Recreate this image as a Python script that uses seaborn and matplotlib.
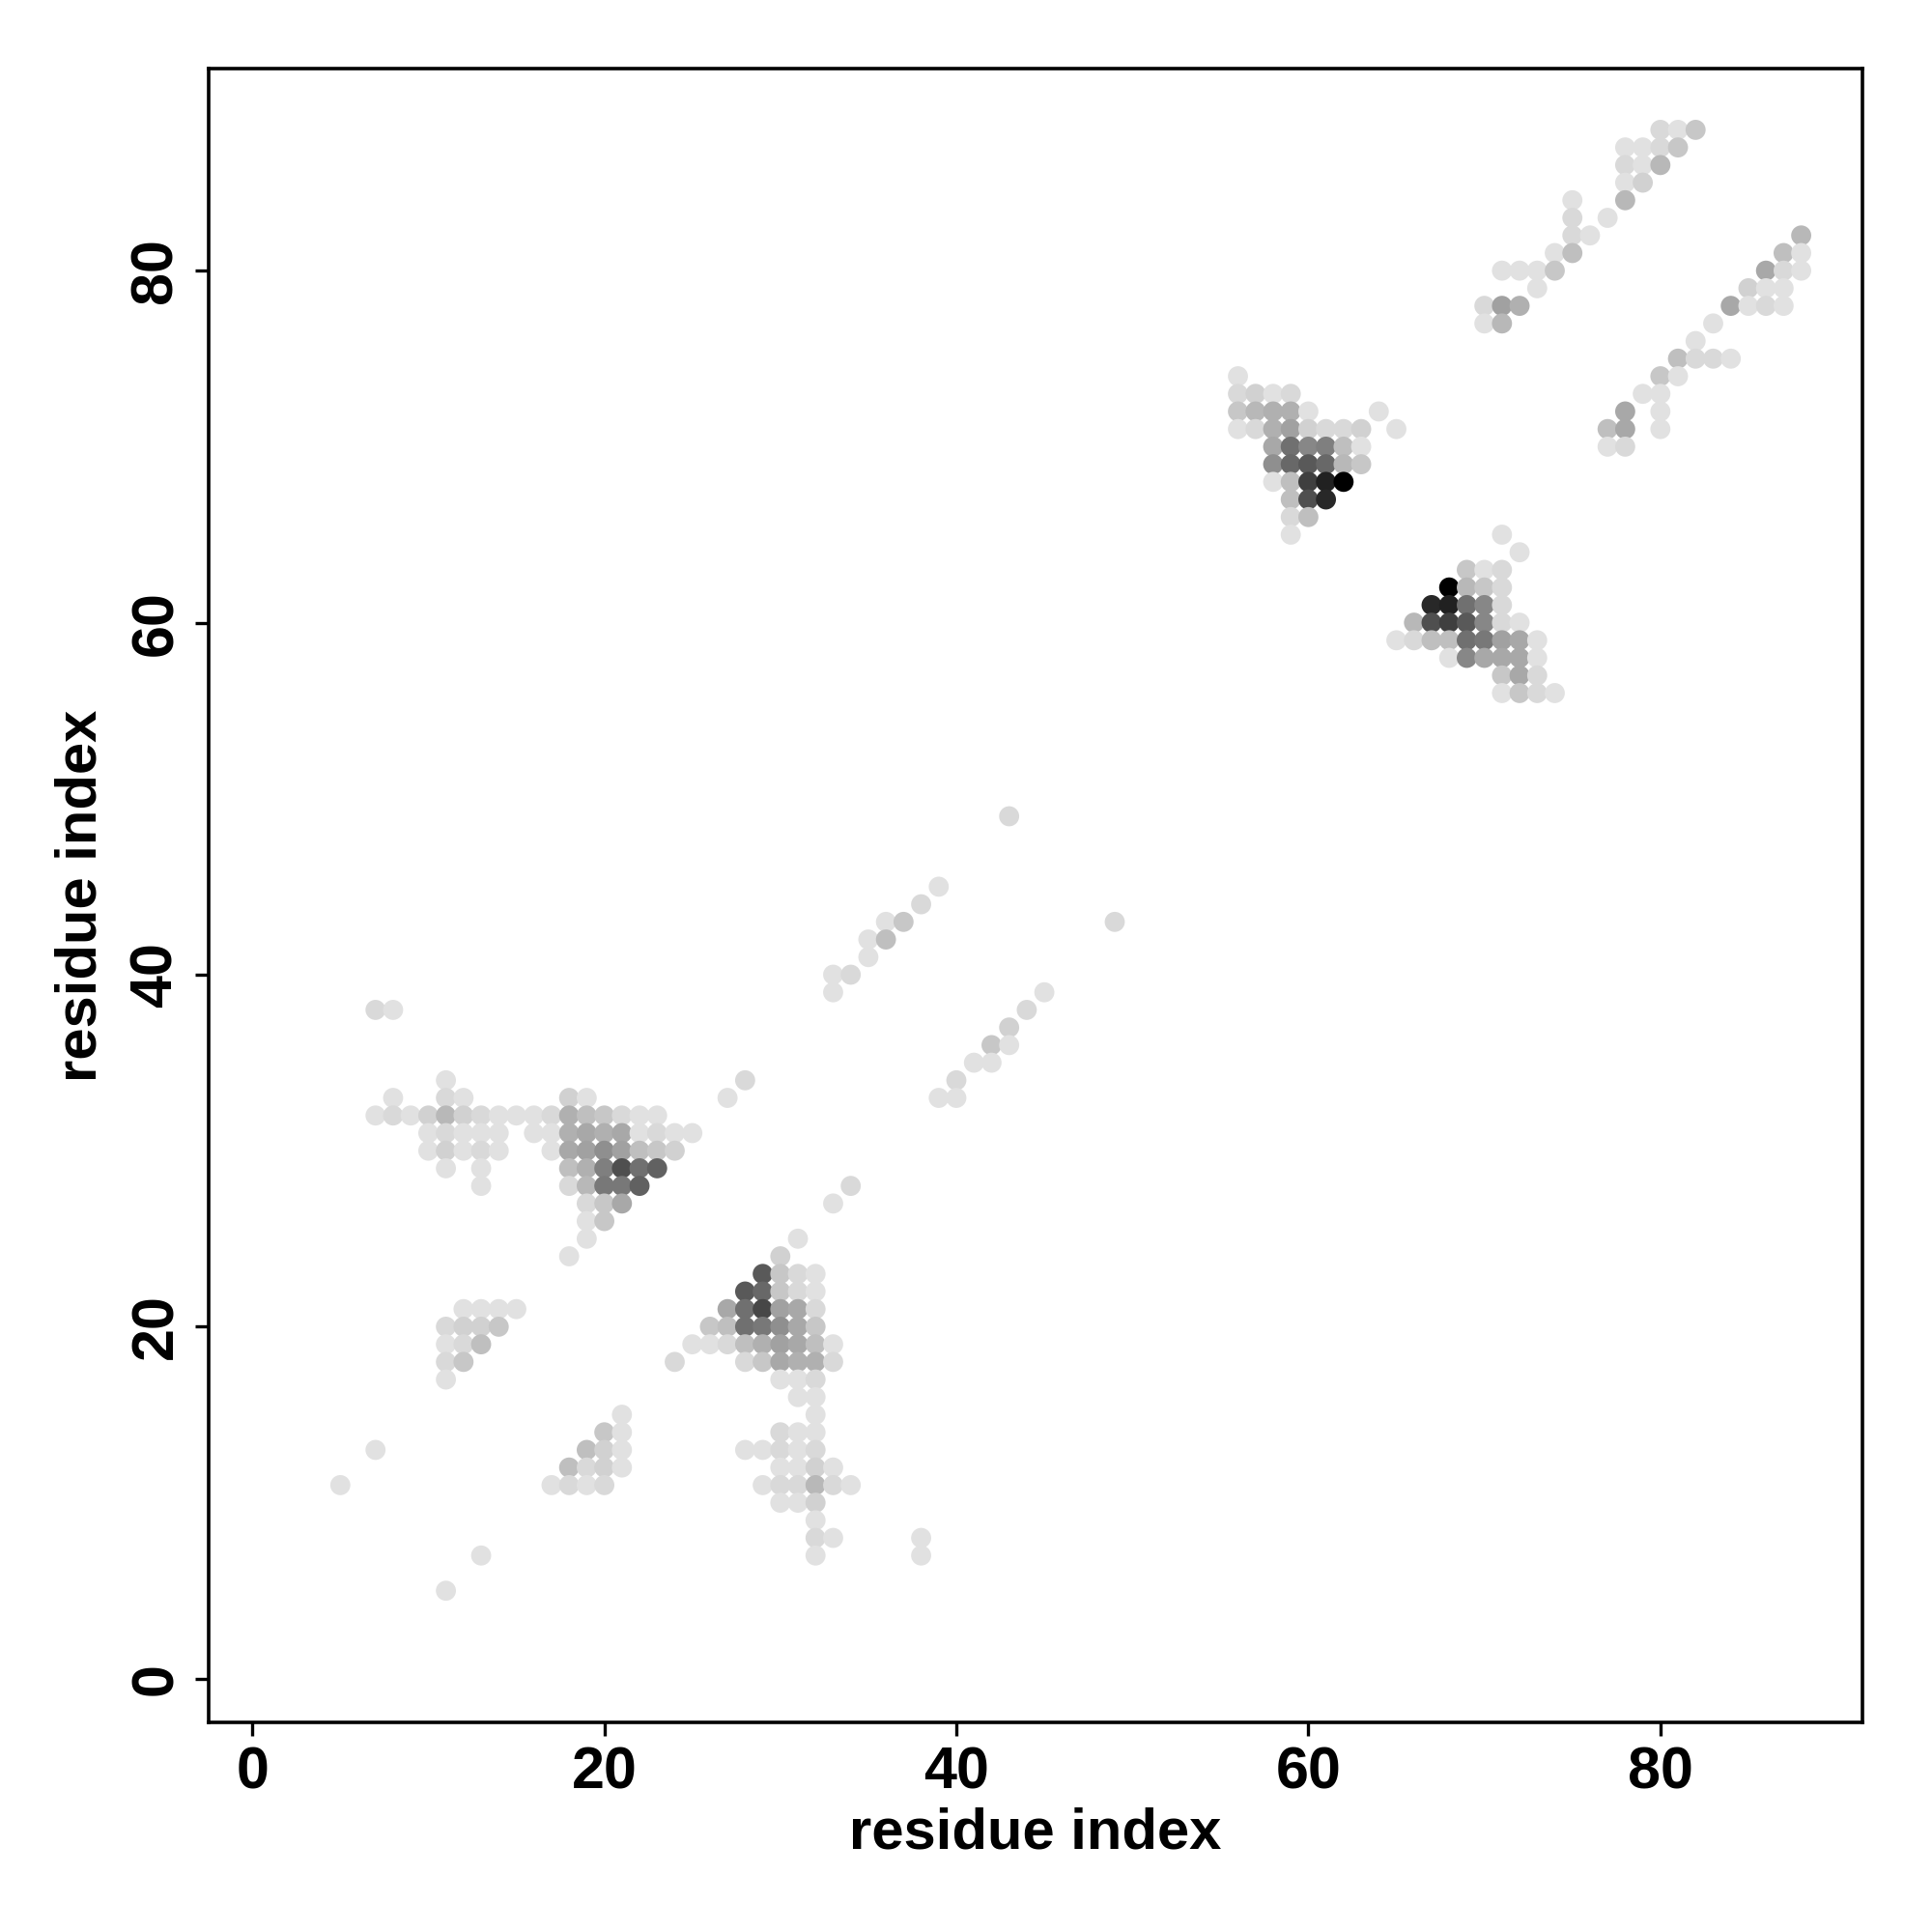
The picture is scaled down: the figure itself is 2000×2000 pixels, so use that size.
import matplotlib
matplotlib.use("Agg")

import matplotlib.pyplot as plt
import pandas as pd
import seaborn as sns

from matplotlib.colors import LinearSegmentedColormap

# contact map: one entry per row j (residue index on y), with the
# partner residues i on that row and the contact probability of each
row_j = [
    88, 87, 86, 85, 84, 83, 82, 81, 80, 79, 78, 77, 76, 75, 74, 73, 72, 71,
    70, 69, 68, 67, 66, 65, 64, 63, 62, 61, 60, 59, 58, 57, 56,
    49, 45, 44, 43, 42, 41, 40, 39, 38, 37, 36, 35, 34, 33, 32, 31, 30,
    29, 28, 27, 26, 25, 24, 23, 22, 21, 20, 19, 18, 17, 16, 15, 14, 13,
    12, 11, 10, 9, 8, 7, 5,
]
row_i = [
    [80, 81, 82],
    [78, 79, 80, 81],
    [78, 79, 80],
    [78, 79],
    [75, 78],
    [75, 77],
    [75, 76, 88],
    [74, 75, 87, 88],
    [71, 72, 73, 74, 86, 87, 88],
    [73, 85, 86, 87],
    [70, 71, 72, 84, 85, 86, 87],
    [70, 71, 83],
    [82],
    [81, 82, 83, 84],
    [56, 80, 81],
    [56, 57, 58, 59, 79, 80],
    [56, 57, 58, 59, 60, 64, 78, 80],
    [56, 57, 58, 59, 60, 61, 62, 63, 65, 77, 78, 80],
    [58, 59, 60, 61, 62, 63, 77, 78],
    [58, 59, 60, 61, 62, 63],
    [58, 59, 60, 61, 62],
    [59, 60, 61],
    [59, 60],
    [59, 71],
    [72],
    [69, 70, 71],
    [68, 69, 70, 71],
    [67, 68, 69, 70, 71],
    [66, 67, 68, 69, 70, 71, 72],
    [65, 66, 67, 68, 69, 70, 71, 72, 73],
    [68, 69, 70, 71, 72, 73],
    [71, 72, 73],
    [71, 72, 73, 74],
    [43],
    [39],
    [38],
    [36, 37, 49],
    [35, 36],
    [35],
    [33, 34],
    [33, 45],
    [7, 8, 44],
    [43],
    [42, 43],
    [41, 42],
    [11, 28, 40],
    [8, 11, 12, 18, 19, 27, 39, 40],
    [7, 8, 9, 10, 11, 12, 13, 14, 15, 16, 17, 18, 19, 20, 21, 22, 23],
    [10, 11, 12, 13, 14, 16, 17, 18, 19, 20, 21, 22, 23, 24, 25],
    [10, 11, 12, 13, 14, 17, 18, 19, 20, 21, 22, 23, 24],
    [11, 13, 18, 19, 20, 21, 22, 23],
    [13, 18, 19, 20, 21, 22, 34],
    [19, 20, 21, 33],
    [19, 20],
    [19, 31],
    [18, 30],
    [29, 30, 31, 32],
    [28, 29, 30, 31, 32],
    [12, 13, 14, 15, 27, 28, 29, 30, 31, 32],
    [11, 12, 13, 14, 26, 27, 28, 29, 30, 31, 32],
    [11, 12, 13, 25, 26, 27, 28, 29, 30, 31, 32, 33],
    [11, 12, 24, 28, 29, 30, 31, 32, 33],
    [11, 30, 31, 32],
    [31, 32],
    [21, 32],
    [20, 21, 30, 31, 32],
    [7, 19, 20, 21, 28, 29, 30, 31, 32],
    [18, 19, 20, 21, 30, 31, 32, 33],
    [5, 17, 18, 19, 20, 29, 30, 31, 32, 33, 34],
    [30, 31, 32],
    [32],
    [32, 33, 38],
    [13, 32, 38],
    [11],
]
row_p = [
    [.15, .12, .22],
    [.12, .12, .15, .22],
    [.15, .12, .28],
    [.12, .18],
    [.12, .28],
    [.15, .12],
    [.15, .12, .28],
    [.12, .25, .25, .12],
    [.12, .12, .12, .22, .34, .15, .12],
    [.12, .18, .12, .12],
    [.15, .37, .31, .34, .12, .15, .12],
    [.12, .28, .12],
    [.12],
    [.25, .15, .15, .12],
    [.12, .22, .12],
    [.15, .18, .12, .15, .12, .12],
    [.22, .28, .31, .31, .12, .12, .34, .12],
    [.12, .15, .31, .37, .18, .15, .15, .18, .12, .25, .34, .12],
    [.34, .56, .47, .50, .25, .12, .12, .15],
    [.44, .59, .65, .59, .28, .22],
    [.12, .25, .75, .87, 1.0],
    [.25, .69, .84],
    [.15, .25],
    [.12, .12],
    [.12],
    [.22, .12, .15],
    [1.0, .28, .22, .15],
    [.84, .87, .56, .47, .15],
    [.28, .69, .75, .65, .47, .15, .12],
    [.12, .15, .25, .25, .56, .53, .37, .34, .12],
    [.12, .47, .34, .34, .34, .12],
    [.22, .34, .15],
    [.12, .22, .15, .12],
    [.15],
    [.12],
    [.15],
    [.12, .22, .15],
    [.12, .25],
    [.12],
    [.12, .15],
    [.12, .12],
    [.15, .12, .15],
    [.18],
    [.22, .12],
    [.12, .12],
    [.12, .15, .15],
    [.12, .15, .12, .18, .12, .12, .12, .12],
    [.12, .15, .12, .18, .28, .18, .15, .12, .12, .12, .15, .31, .25, .22,
     .15, .12, .12],
    [.12, .15, .12, .12, .12, .12, .12, .31, .34, .31, .34, .12, .15, .12,
     .12],
    [.12, .18, .12, .15, .12, .12, .34, .37, .44, .37, .25, .22, .18],
    [.12, .12, .25, .31, .50, .69, .56, .62],
    [.12, .15, .28, .53, .53, .62, .15],
    [.15, .22, .34, .12],
    [.12, .22],
    [.12, .12],
    [.12, .18],
    [.65, .22, .15, .12],
    [.65, .59, .22, .15, .12],
    [.12, .12, .12, .12, .34, .56, .72, .37, .34, .15],
    [.15, .18, .18, .22, .22, .25, .56, .53, .44, .34, .22],
    [.12, .15, .25, .12, .12, .15, .25, .31, .37, .34, .25, .12],
    [.15, .22, .15, .15, .22, .34, .31, .31, .15],
    [.12, .12, .12, .15],
    [.12, .12],
    [.12, .12],
    [.22, .12, .15, .12, .12],
    [.12, .25, .18, .12, .12, .12, .15, .12, .15],
    [.25, .15, .18, .12, .12, .12, .18, .12],
    [.12, .12, .15, .12, .15, .12, .15, .15, .28, .15, .12],
    [.12, .12, .18],
    [.12],
    [.15, .12, .12],
    [.12, .12, .12],
    [.12],
]

n_residues = 88


def build_frame() -> pd.DataFrame:
    records = []
    for j, ii, pp in zip(row_j, row_i, row_p):
        for i, p in zip(ii, pp):
            records.append({"i": i, "j": j, "p": p})
    return pd.DataFrame(records)


def main() -> None:
    df = build_frame()

    sns.set_style("white")
    plt.rcParams["font.family"] = ["Liberation Sans", "DejaVu Sans"]
    plt.rcParams["text.color"] = "black"
    plt.rcParams["axes.labelcolor"] = "black"
    plt.rcParams["xtick.color"] = "black"
    plt.rcParams["ytick.color"] = "black"

    fig = plt.figure(figsize=(10, 10), dpi=200)
    ax = fig.add_axes([0.108, 0.1085, 0.856, 0.856])

    greys = LinearSegmentedColormap.from_list("wb", ["#ffffff", "#000000"])
    sns.scatterplot(
        data=df, x="i", y="j", hue="p", palette=greys, hue_norm=(0, 1),
        s=56, linewidth=0, legend=False, ax=ax,
    )

    pad = 0.04 * (n_residues - 1)
    ax.set_xlim(1 - pad, n_residues + pad)
    ax.set_ylim(1 - pad, n_residues + pad)

    ticks = [0, 20, 40, 60, 80]
    ax.set_xticks(ticks)
    ax.set_yticks(ticks)
    ax.tick_params(
        axis="both", direction="out", length=5, width=1.2, colors="black",
        labelsize=22, pad=4, bottom=True, left=True,
    )
    for label in ax.get_xticklabels() + ax.get_yticklabels():
        label.set_fontweight("bold")
    for label in ax.get_yticklabels():
        label.set_rotation(90)
        label.set_va("center")

    ax.set_xlabel("residue index", fontsize=21.5, fontweight="bold",
                  labelpad=2, color="black")
    ax.set_ylabel("residue index", fontsize=21.5, fontweight="bold",
                  labelpad=8, color="black")

    for spine in ax.spines.values():
        spine.set_color("black")
        spine.set_linewidth(1.3)

    fig.savefig("out.png", dpi=200, facecolor="white")


if __name__ == "__main__":
    main()
